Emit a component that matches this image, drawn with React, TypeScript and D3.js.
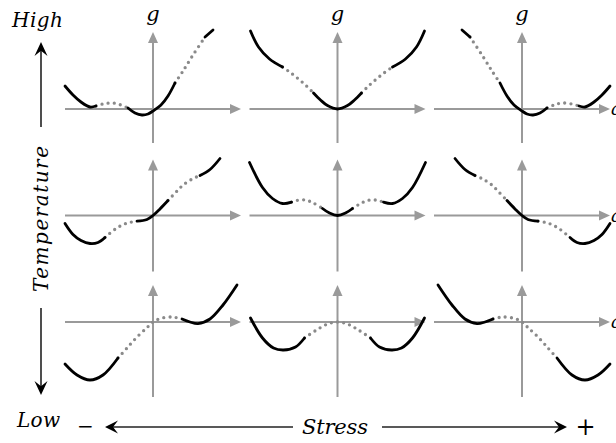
import React from 'react';
import * as d3 from 'd3';

// A point on a free-energy curve: [order parameter a, free energy g]
type Pt = [number, number];
type Segment = { stable: boolean; pts: Pt[] };

// Row labels run from high to low temperature, columns from negative to positive stress
const temperatureEnds = ['High', 'Low'];
const temperatureTitle = 'Temperature';
const stressEnds = ['−', '+'];
const stressTitle = 'Stress';
const gLabel = 'g';
const aLabel = 'a';

// Visible extent of each row's g axis, in g units [bottom, top]
const gAxisExtent: [number, number][] = [
  [-1.7, 3.85],
  [-2.8, 2.8],
  [-3.75, 1.85],
];
const aExtent: [number, number] = [-4.4, 4.4];

// High temperature
const highNeg: Segment[] = [
  { stable: true, pts: [[-4.4, 1.15], [-4.0, 0.7], [-3.6, 0.35], [-3.15, 0.1], [-2.85, 0.15]] },
  { stable: false, pts: [[-2.85, 0.15], [-2.5, 0.25], [-2.0, 0.3], [-1.6, 0.2], [-1.25, 0.05]] },
  { stable: true, pts: [[-1.25, 0.05], [-0.9, -0.2], [-0.55, -0.3], [-0.25, -0.25], [0, -0.1], [0.4, 0.2], [0.75, 0.65], [1.1, 1.3]] },
  { stable: false, pts: [[1.1, 1.3], [1.5, 1.9], [2.0, 2.7], [2.6, 3.6]] },
  { stable: true, pts: [[2.6, 3.6], [3.0, 3.95]] },
];
const highZero: Segment[] = [
  { stable: true, pts: [[-4.35, 3.9], [-3.95, 3.1], [-3.4, 2.5], [-2.75, 2.1]] },
  { stable: false, pts: [[-2.75, 2.1], [-2.35, 1.82], [-1.95, 1.5], [-1.55, 1.15], [-1.2, 0.8]] },
  { stable: true, pts: [[-1.2, 0.8], [-0.85, 0.45], [-0.5, 0.17], [0, 0], [0.5, 0.17], [0.85, 0.45], [1.2, 0.8]] },
  { stable: false, pts: [[1.2, 0.8], [1.55, 1.15], [1.95, 1.5], [2.35, 1.82], [2.75, 2.1]] },
  { stable: true, pts: [[2.75, 2.1], [3.4, 2.5], [3.95, 3.1], [4.35, 3.9]] },
];
const highPos: Segment[] = [
  { stable: true, pts: [[-3.0, 3.95], [-2.6, 3.6]] },
  { stable: false, pts: [[-2.6, 3.6], [-2.0, 2.7], [-1.5, 1.9], [-1.1, 1.3]] },
  { stable: true, pts: [[-1.1, 1.3], [-0.75, 0.65], [-0.4, 0.2], [0, -0.1], [0.25, -0.25], [0.55, -0.3], [0.9, -0.2], [1.25, 0.05]] },
  { stable: false, pts: [[1.25, 0.05], [1.6, 0.2], [2.0, 0.3], [2.5, 0.25], [2.85, 0.15]] },
  { stable: true, pts: [[2.85, 0.15], [3.15, 0.1], [3.6, 0.35], [4.0, 0.7], [4.4, 1.15]] },
];

// Intermediate temperature
const midNeg: Segment[] = [
  { stable: true, pts: [[-4.4, -0.4], [-4.0, -0.95], [-3.6, -1.25], [-3.15, -1.4], [-2.75, -1.35], [-2.4, -1.1]] },
  { stable: false, pts: [[-2.4, -1.1], [-1.8, -0.62], [-1.3, -0.38], [-0.8, -0.28]] },
  { stable: true, pts: [[-0.8, -0.28], [-0.3, -0.2], [0, 0], [0.35, 0.33], [0.75, 0.75]] },
  { stable: false, pts: [[0.75, 0.75], [1.2, 1.22], [1.5, 1.52], [1.95, 1.82], [2.35, 2.0]] },
  { stable: true, pts: [[2.35, 2.0], [2.85, 2.3], [3.35, 2.85]] },
];
const midZero: Segment[] = [
  { stable: true, pts: [[-4.4, 2.65], [-3.75, 1.4], [-3.25, 0.85], [-2.75, 0.6], [-2.3, 0.67]] },
  { stable: false, pts: [[-2.3, 0.67], [-2.05, 0.75], [-1.65, 0.78], [-1.25, 0.65], [-0.75, 0.35]] },
  { stable: true, pts: [[-0.75, 0.35], [-0.4, 0.12], [0, 0], [0.4, 0.12], [0.75, 0.35]] },
  { stable: false, pts: [[0.75, 0.35], [1.25, 0.65], [1.65, 0.78], [2.05, 0.75], [2.3, 0.67]] },
  { stable: true, pts: [[2.3, 0.67], [2.75, 0.6], [3.25, 0.85], [3.75, 1.4], [4.4, 2.65]] },
];
const midPos: Segment[] = [
  { stable: true, pts: [[-3.35, 2.85], [-2.85, 2.3], [-2.35, 2.0]] },
  { stable: false, pts: [[-2.35, 2.0], [-1.95, 1.82], [-1.5, 1.52], [-1.2, 1.22], [-0.75, 0.75]] },
  { stable: true, pts: [[-0.75, 0.75], [-0.35, 0.33], [0, 0], [0.3, -0.2], [0.8, -0.28]] },
  { stable: false, pts: [[0.8, -0.28], [1.3, -0.38], [1.8, -0.62], [2.4, -1.1]] },
  { stable: true, pts: [[2.4, -1.1], [2.75, -1.35], [3.15, -1.4], [3.6, -1.25], [4.0, -0.95], [4.4, -0.4]] },
];

// Low temperature
const lowNeg: Segment[] = [
  { stable: true, pts: [[-4.4, -2.1], [-3.8, -2.65], [-3.15, -2.9], [-2.5, -2.65], [-1.75, -1.8]] },
  { stable: false, pts: [[-1.75, -1.8], [-1.3, -1.3], [-0.8, -0.75], [-0.3, -0.28], [0, 0], [0.35, 0.17], [0.95, 0.25], [1.45, 0.15]] },
  { stable: true, pts: [[1.45, 0.15], [1.85, 0.0], [2.25, -0.08], [2.85, 0.15], [3.5, 0.85], [4.2, 1.85]] },
];
const lowZero: Segment[] = [
  { stable: true, pts: [[-4.35, 0.2], [-3.75, -0.8], [-3.2, -1.3], [-2.7, -1.4], [-2.1, -1.25], [-1.65, -0.8]] },
  { stable: false, pts: [[-1.65, -0.8], [-1.05, -0.4], [-0.5, -0.1], [0, 0], [0.5, -0.1], [1.05, -0.4], [1.65, -0.8]] },
  { stable: true, pts: [[1.65, -0.8], [2.1, -1.25], [2.7, -1.4], [3.2, -1.3], [3.75, -0.8], [4.35, 0.2]] },
];
const lowPos: Segment[] = [
  { stable: true, pts: [[-4.2, 1.85], [-3.5, 0.85], [-2.85, 0.15], [-2.25, -0.08], [-1.85, 0.0], [-1.45, 0.15]] },
  { stable: false, pts: [[-1.45, 0.15], [-0.95, 0.25], [-0.35, 0.17], [0, 0], [0.3, -0.28], [0.8, -0.75], [1.3, -1.3], [1.75, -1.8]] },
  { stable: true, pts: [[1.75, -1.8], [2.5, -2.65], [3.15, -2.9], [3.8, -2.65], [4.4, -2.1]] },
];

const panels: Segment[][][] = [
  [highNeg, highZero, highPos],
  [midNeg, midZero, midPos],
  [lowNeg, lowZero, lowPos],
];

// Layout
const W = 616;
const H = 443;
const colX = d3.scaleLinear().domain([0, 2]).range([153, 522]);
const rowY = d3.scaleLinear().domain([0, 2]).range([109, 322]);
const halfWidth = 88;
const gUnitPx = 20;

const AXIS_GREY = '#9a9a9a';
const DOT_GREY = '#8a8a8a';
const MATH_FONT = "'DejaVu Serif', 'Liberation Serif', serif";

// Concave "stealth" arrowhead, tip at origin, pointing along +x
const stealth = (len: number, half: number) =>
  `M0,0 L${-len},${-half} L${-len * 0.62},0 L${-len},${half} Z`;

function Panel({ row, col, segs }: { row: number; col: number; segs: Segment[] }) {
  const cx = colX(col);
  const cy = rowY(row);
  const x = d3.scaleLinear().domain(aExtent).range([cx - halfWidth, cx + halfWidth]);
  const y = d3.scaleLinear().domain([0, 1]).range([cy, cy - gUnitPx]);
  const line = d3
    .line<Pt>()
    .x((p) => x(p[0]))
    .y((p) => y(p[1]))
    .curve(d3.curveCatmullRom.alpha(0.5));

  const [gLo, gHi] = gAxisExtent[row];
  const ah = 11;
  const aw = 5;
  const xTip = x(aExtent[1]);
  const yTip = y(gHi);

  return (
    <g>
      {/* a axis */}
      <line x1={x(aExtent[0])} x2={xTip - ah + 1} y1={cy} y2={cy} stroke={AXIS_GREY} strokeWidth={2} />
      <path d={`M${xTip},${cy} L${xTip - ah},${cy - aw} L${xTip - ah},${cy + aw} Z`} fill={AXIS_GREY} />
      {/* g axis */}
      <line x1={cx} x2={cx} y1={y(gLo)} y2={yTip + ah - 1} stroke={AXIS_GREY} strokeWidth={2} />
      <path d={`M${cx},${yTip} L${cx - aw},${yTip + ah} L${cx + aw},${yTip + ah} Z`} fill={AXIS_GREY} />

      {segs
        .filter((s) => !s.stable)
        .map((s, i) => (
          <path
            key={`u${i}`}
            d={line(s.pts) ?? ''}
            fill="none"
            stroke={DOT_GREY}
            strokeWidth={3.3}
            strokeLinecap="round"
            strokeDasharray="0 6.2"
          />
        ))}
      {segs
        .filter((s) => s.stable)
        .map((s, i) => (
          <path
            key={`s${i}`}
            d={line(s.pts) ?? ''}
            fill="none"
            stroke="#000"
            strokeWidth={2.8}
            strokeLinecap="round"
          />
        ))}

      {row === 0 && (
        <text x={cx} y={21} textAnchor="middle" fontFamily={MATH_FONT} fontStyle="italic" fontSize={21} fill="#000">
          {gLabel}
        </text>
      )}
      {col === 2 && (
        <text x={611} y={cy + 6} fontFamily={MATH_FONT} fontStyle="italic" fontSize={18} fill="#000">
          {aLabel}
        </text>
      )}
    </g>
  );
}

export default function App() {
  const tx = 41;
  const sy = 427;
  return (
    <div style={{ position: 'absolute', left: 0, top: 0 }}>
      <svg width={W} height={H} viewBox={`0 0 ${W} ${H}`} style={{ display: 'block', background: '#fff' }}>
        <rect width={W} height={H} fill="#fff" />
        {panels.map((rowPanels, r) =>
          rowPanels.map((segs, c) => <Panel key={`${r}-${c}`} row={r} col={c} segs={segs} />)
        )}

        {/* Temperature axis */}
        <text x={12} y={27} fontFamily={MATH_FONT} fontStyle="italic" fontSize={20} textLength={51} lengthAdjust="spacing" fill="#000">
          {temperatureEnds[0]}
        </text>
        <line x1={tx} x2={tx} y1={127} y2={50} stroke="#222" strokeWidth={1.6} />
        <path d={stealth(14, 6.5)} transform={`translate(${tx},42) rotate(-90)`} fill="#000" />
        <text
          transform={`translate(48,219) rotate(-90)`}
          textAnchor="middle"
          fontFamily={MATH_FONT}
          fontStyle="italic"
          fontSize={20}
          textLength={146}
          lengthAdjust="spacing"
          fill="#000"
        >
          {temperatureTitle}
        </text>
        <line x1={tx} x2={tx} y1={308} y2={387} stroke="#222" strokeWidth={1.6} />
        <path d={stealth(14, 6.5)} transform={`translate(${tx},395) rotate(90)`} fill="#000" />
        <text x={17} y={427} fontFamily={MATH_FONT} fontStyle="italic" fontSize={20} textLength={43} lengthAdjust="spacing" fill="#000">
          {temperatureEnds[1]}
        </text>

        {/* Stress axis */}
        <text x={85.5} y={sy + 6} textAnchor="middle" fontFamily={MATH_FONT} fontSize={20} fill="#000">
          {stressEnds[0]}
        </text>
        <line x1={113} x2={293} y1={sy} y2={sy} stroke="#222" strokeWidth={1.6} />
        <path d={stealth(13, 6.5)} transform={`translate(105,${sy}) rotate(180)`} fill="#000" />
        <text x={335} y={sy + 7} textAnchor="middle" fontFamily={MATH_FONT} fontStyle="italic" fontSize={21} textLength={66} lengthAdjust="spacing" fill="#000">
          {stressTitle}
        </text>
        <line x1={382} x2={559} y1={sy} y2={sy} stroke="#222" strokeWidth={1.6} />
        <path d={stealth(13, 6.5)} transform={`translate(567,${sy})`} fill="#000" />
        <text x={585.5} y={sy + 8} textAnchor="middle" fontFamily={MATH_FONT} fontSize={24} fill="#000">
          {stressEnds[1]}
        </text>
      </svg>
    </div>
  );
}
